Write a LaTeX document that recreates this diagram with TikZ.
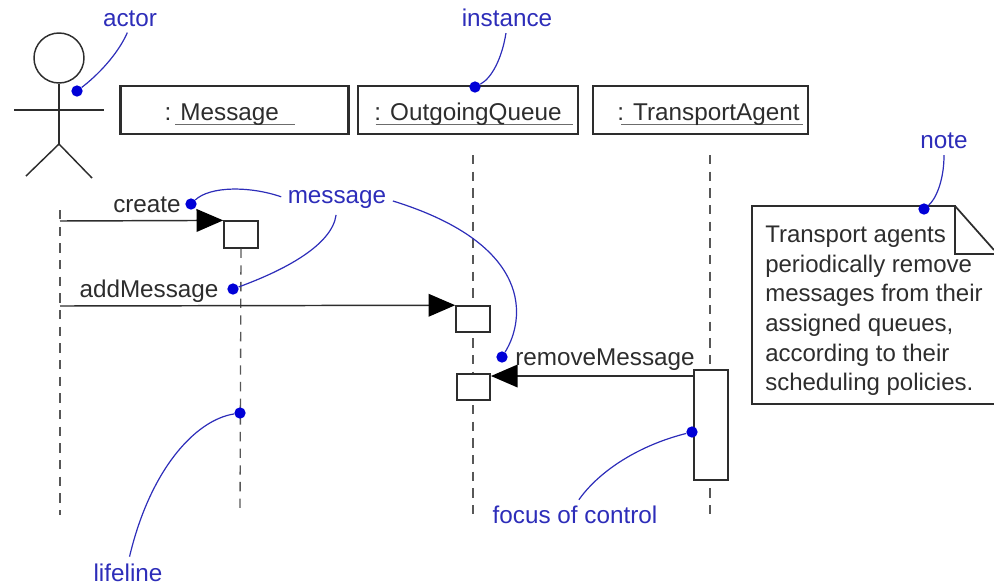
\documentclass[tikz,border=0pt]{standalone}
\usepackage{fontspec}
\setmainfont{Liberation Sans}
\usetikzlibrary{arrows.meta}
\definecolor{inkgray}{RGB}{45,45,45}
\definecolor{calloutblue}{RGB}{45,45,185}
\definecolor{dotblue}{RGB}{0,0,215}
\newcommand{\namebar}[2]{\rlap{\kern-#1\textcolor{inkgray!70}{\rule[-4pt]{#2}{1pt}}}}
\tikzset{
	instancebox/.style={draw=inkgray,line width=1.6pt,fill=white,minimum height=36pt,inner sep=0pt,text height=20pt,text depth=5pt,font=\fontsize{18.2}{22}\selectfont,text=inkgray},
	activation/.style={draw=inkgray,line width=1.2pt,fill=white,inner sep=0pt},
	lifeline/.style={draw=inkgray!80,line width=1pt,dash pattern={on 7pt off 5.5pt}},
	stick/.style={draw=inkgray,line width=1.1pt},
	msgline/.style={draw=inkgray,line width=1.1pt,-{Triangle[length=20pt,width=17pt,inset=0pt,color=black]}},
	msglabel/.style={inner sep=0pt,font=\fontsize{18.2}{22}\selectfont,text=inkgray},
	calloutlabel/.style={inner sep=0pt,font=\fontsize{18.2}{22}\selectfont,text=calloutblue},
	calloutdot/.style={circle,fill=dotblue,inner sep=0pt,minimum size=8.5pt},
	callout/.style={draw=calloutblue,line width=0.9pt,shorten >=5pt},
}
\begin{document}
\begin{tikzpicture}[x=0.75pt,y=0.75pt,yscale=-1]
	\useasboundingbox (0,0) rectangle (994,587);

	% Coordinates
	\coordinate (armL) at (14,110);
	\coordinate (armR) at (104,110);
	\coordinate (hip) at (59,144);
	\coordinate (legL) at (26,176);
	\coordinate (legR) at (92,178);
	\coordinate (lifeAtop) at (60,210);
	\coordinate (lifeAend) at (60,515);
	\coordinate (lifeMend) at (240,515);
	\coordinate (lifeQtop) at (473,155);
	\coordinate (lifeQend) at (473,515);
	\coordinate (lifeTtop) at (710,155);
	\coordinate (lifeTend) at (710,515);
	\coordinate (startA) at (60,221);
	\coordinate (startB) at (60,306);
	\coordinate (noteTL) at (752,206);
	\coordinate (noteBL) at (752,404);
	\coordinate (noteBR) at (994,404);
	\coordinate (foldT) at (955,206);
	\coordinate (foldB) at (955,254);
	\coordinate (foldR) at (994,254);
	\coordinate (foldE) at (994,250);

	% Actor
	\node (head) [circle,stick,draw,minimum size=37.5pt,inner sep=0pt] at (59,58) {};
	\draw [stick] (head.south) -- (hip);
	\draw [stick] (armL) -- (armR);
	\draw [stick] (legL) -- (hip) -- (legR);

	% Lifelines
	\draw [lifeline] (lifeAtop) -- (lifeAend);
	\draw [lifeline] (lifeQtop) -- (lifeQend);
	\draw [lifeline] (lifeTtop) -- (lifeTend);

	% Instances
	\node (message) [instancebox,minimum width=171pt] at (234.5,110) {: \namebar{3.75pt}{90pt}Message\kern19pt};
	\node (queue) [instancebox,minimum width=165pt] at (468,110) {: \namebar{11pt}{148pt}OutgoingQueue};
	\node (agent) [instancebox,minimum width=161pt] at (700.5,110) {\hspace{12pt}: \namebar{9pt}{136pt}TransportAgent};

	% Activations
	\node (createbox) [activation,minimum width=25.5pt,minimum height=20pt] at (241,234.5) {};
	\node (addbox) [activation,minimum width=25.5pt,minimum height=19.5pt] at (473,319) {};
	\node (removebox) [activation,minimum width=25pt,minimum height=19.5pt] at (473.5,387) {};
	\node (focusbox) [activation,minimum width=25.5pt,minimum height=82.5pt] at (711,425) {};
	\draw [lifeline] (createbox.south) -- (lifeMend);

	% Connection
	\draw [msgline] (startA) -- (createbox.north west);
	\draw [msgline] (startB) -- (addbox.north west);
	\draw [msgline] (focusbox.west |- 0,376) -- (removebox.north east |- 0,376);

	% Text Node
	\node (create) [msglabel,anchor=base] at (147,212) {create};
	\node (addmsg) [msglabel,anchor=base] at (149,297) {addMessage};
	\node (removemsg) [msglabel,anchor=base] at (605,365) {removeMessage};
	\node (notetext) [msglabel,anchor=north west,align=left,font=\fontsize{18}{22.2}\selectfont] at (765,226) {Transport agents\\periodically remove\\messages from their\\assigned queues,\\according to their\\scheduling policies.};

	% Note
	\draw [draw=inkgray,line width=1.3pt] (foldR) -- (foldB) -- (foldT) -- (noteTL) -- (noteBL) -- (noteBR);
	\draw [draw=inkgray,line width=1.3pt] (foldT) -- (foldE);

	% Callout labels
	\node (actorlabel) [calloutlabel,anchor=base] at (130,26) {actor};
	\node (instancelabel) [calloutlabel,anchor=base] at (507,26) {instance};
	\node (notelabel) [calloutlabel,anchor=base] at (944,148) {note};
	\node (msgcallout) [calloutlabel,anchor=base] at (337,203) {message};
	\node (lifelabel) [calloutlabel,anchor=base] at (128,581) {lifeline};
	\node (focuslabel) [calloutlabel,anchor=base] at (575,523) {focus of control};

	% Callout dots
	\node (actordot) [calloutdot] at (77,91) {};
	\node (instancedot) [calloutdot] at (475,87) {};
	\node (notedot) [calloutdot] at (924,209) {};
	\node (createdot) [calloutdot] at (191,204) {};
	\node (adddot) [calloutdot] at (233,289) {};
	\node (removedot) [calloutdot] at (502,357) {};
	\node (lifedot) [calloutdot] at (240,413) {};
	\node (focusdot) [calloutdot] at (692,432) {};

	% Curve Lines
	\draw [callout] (actordot) .. controls (98,75) and (118,54) .. (actorlabel.south);
	\draw [callout] (instancedot) .. controls (492,78) and (502,58) .. (instancelabel.south);
	\draw [callout] (notedot) .. controls (935,200) and (944,182) .. (notelabel.south);
	\draw [callout] (createdot) .. controls (210,186) and (250,186) .. (msgcallout.west);
	\draw [callout] (adddot) .. controls (285,270) and (332,245) .. (msgcallout.south);
	\draw [callout] (removedot) .. controls (525,320) and (535,245) .. (msgcallout.east);
	\draw [callout] (lifedot) .. controls (195,420) and (150,470) .. (lifelabel.north);
	\draw [callout] (focusdot) .. controls (640,445) and (600,470) .. (focuslabel.north);
\end{tikzpicture}
\end{document}
